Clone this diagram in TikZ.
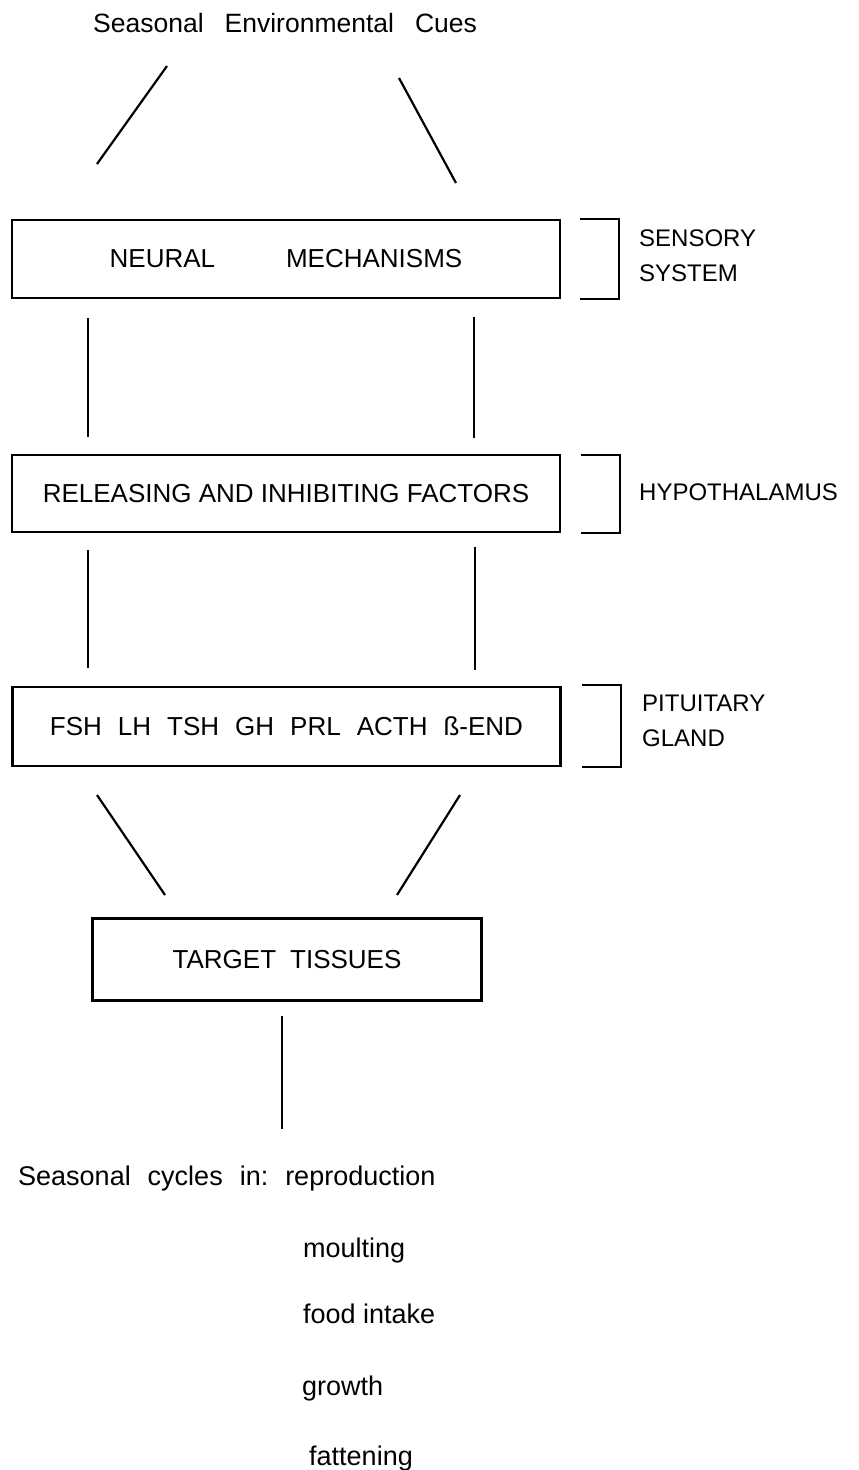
\documentclass[tikz,border=0pt]{standalone}
\usepackage{fontspec}
\setmainfont{Liberation Sans}
\newcommand\wgap[1]{\hspace{#1pt}}
\begin{document}
\begin{tikzpicture}[x=1pt,y=-1pt,
  box/.style={draw,line width=2.5pt,inner sep=0pt,minimum width=548pt,minimum height=78pt,
    font=\fontsize{26}{30}\selectfont},
  lab/.style={inner sep=0pt,font=\fontsize{26.5}{30}\selectfont},
  side/.style={inner sep=0pt,anchor=west,align=left,font=\fontsize{24}{35}\selectfont},
  list/.style={inner sep=0pt,anchor=base west,font=\fontsize{27}{30}\selectfont},
  conn/.style={line width=2.2pt},
  brk/.style={line width=2.5pt}]
\useasboundingbox[fill=white] (0,0) rectangle (859,1470);

% title
\node[lab,anchor=base west] (cues) at (93,32.5) {Seasonal\wgap{21}Environmental\wgap{21}Cues};

% boxes
\node[box] (neural) at (286,259) {NEURAL\wgap{71}MECHANISMS};
\node[box,minimum height=77pt] (rel) at (286,493.5) {RELEASING AND INHIBITING FACTORS};
\node[box,minimum height=79pt] (pit) at (286.5,726.5) {FSH\wgap{16}LH\wgap{16}TSH\wgap{16}GH\wgap{16}PRL\wgap{16}ACTH\wgap{16}ß-END};
\node[box,minimum width=389pt,minimum height=82pt] (tt) at (287,959.5) {TARGET\wgap{14}TISSUES};

% side labels and brackets
\draw[brk] (580,219) -| (619,299) -- (580,299);
\node[side] (sens) at (639,256) {SENSORY\\SYSTEM};
\draw[brk] (581,455) -| (620,533) -- (581,533);
\node[side,anchor=base west] (hyp) at (639,500) {HYPOTHALAMUS};
\draw[brk] (582,685) -| (621,767) -- (582,767);
\node[side] (pitl) at (642,720.5) {PITUITARY\\GLAND};

% connector end points
\coordinate (c1a) at (167,66);  \coordinate (c1b) at (97,164);
\coordinate (c2a) at (399,78);  \coordinate (c2b) at (456,183);
\coordinate (n1a) at (88,318);  \coordinate (n1b) at (88,437);
\coordinate (n2a) at (474,317); \coordinate (n2b) at (474,438);
\coordinate (h1a) at (88,550);  \coordinate (h1b) at (88,668);
\coordinate (h2a) at (475,547); \coordinate (h2b) at (475,670);
\coordinate (p1a) at (97,795);  \coordinate (p1b) at (165,895);
\coordinate (p2a) at (460,795); \coordinate (p2b) at (397,895);
\coordinate (t1a) at (282,1016); \coordinate (t1b) at (282,1129);

\draw[conn] (c1a) -- (c1b);
\draw[conn] (c2a) -- (c2b);
\draw[conn] (n1a) -- (n1b);
\draw[conn] (n2a) -- (n2b);
\draw[conn] (h1a) -- (h1b);
\draw[conn] (h2a) -- (h2b);
\draw[conn] (p1a) -- (p1b);
\draw[conn] (p2a) -- (p2b);
\draw[conn] (t1a) -- (t1b);

% bottom list
\node[list] (cyc) at (18,1185) {Seasonal\wgap{17}cycles\wgap{17}in:\wgap{17}reproduction};
\node[list] (moult) at (303,1257) {moulting};
\node[list] (food) at (303,1323) {food intake};
\node[list] (grow) at (302,1395) {growth};
\node[list] (fat) at (309,1465) {fattening};
\end{tikzpicture}
\end{document}
